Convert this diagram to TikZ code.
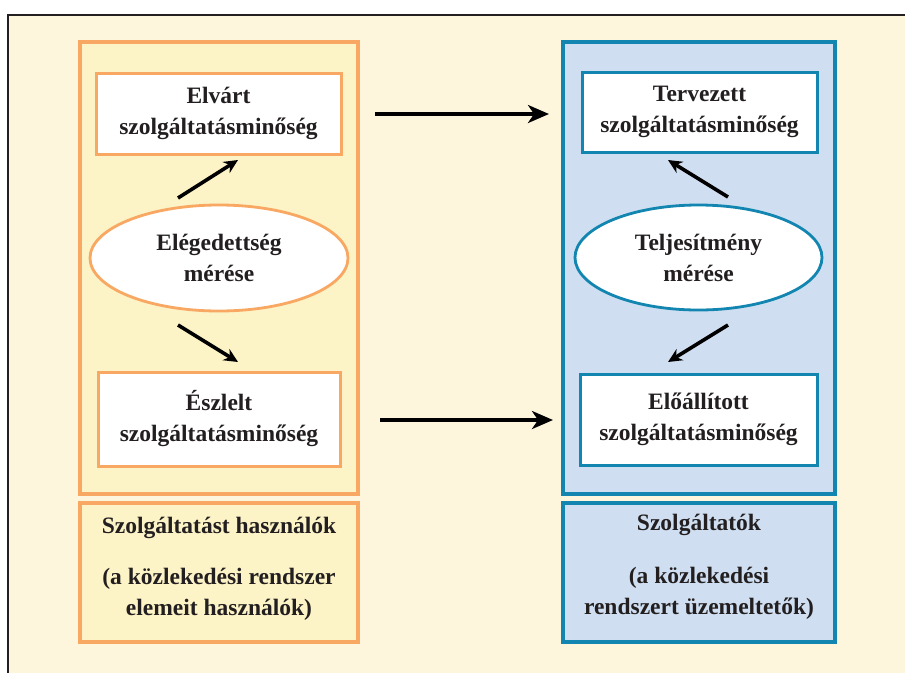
\documentclass[tikz,border=0pt]{standalone}
\usepackage{fontspec}
\setmainfont{Liberation Serif}
\usetikzlibrary{arrows.meta,shapes.geometric}
\definecolor{cream}{HTML}{FEF6DC}
\definecolor{usefill}{HTML}{FCF3C6}
\definecolor{useline}{HTML}{F8A862}
\definecolor{provfill}{HTML}{CFDFF1}
\definecolor{provline}{HTML}{1286B0}
\definecolor{ink}{HTML}{231F20}
\tikzset{
  txt/.style={font=\fontsize{23.5}{31}\selectfont\bfseries, text=ink, align=center},
  panel/.style={line width=3.2pt, inner sep=0pt},
  qbox/.style={txt, draw, fill=white, line width=3pt, inner sep=0pt},
  meas/.style={txt, ellipse, draw, fill=white, line width=2.8pt, inner sep=0pt},
  flow/.style={line width=3.6pt, -{Stealth[length=14pt,width=13pt]}},
  horiz/.style={line width=3.4pt, -{Stealth[length=21pt,width=18pt,inset=6pt]}}
}
\begin{document}
\begin{tikzpicture}[x=1pt,y=-1pt]
\useasboundingbox (0,0) rectangle (905,673);
% page background and frame
\fill[cream] (8,15) rectangle (905,673);
\draw[ink, line width=1.3pt] (8,673) -- (8,15) -- (905,15);

% service users side
\node[panel, draw=useline, fill=usefill, minimum width=278pt, minimum height=452pt] (upanel) at (219,268) {};
\node[panel, draw=useline, fill=usefill, minimum width=278pt, minimum height=139pt] (ulabel) at (219,572.5) {};
\node[txt, anchor=center] (ulabA) at (219,528) {Szolgáltatást használók};
\node[txt, anchor=center] (ulabB) at (219,594) {(a közlekedési rendszer\\elemeit használók)};

\node[qbox, draw=useline, minimum width=245pt, minimum height=81pt] (expected) at (218.5,113.5) {Elvárt\\szolgáltatásminőség};
\node[meas, draw=useline, minimum width=258pt, minimum height=106pt] (satisf) at (219,258) {Elégedettség\\mérése};
\node[qbox, draw=useline, minimum width=242pt, minimum height=94pt] (perceived) at (219,419) {Észlelt\\szolgáltatásminőség};

% service providers side
\node[panel, draw=provline, fill=provfill, minimum width=272pt, minimum height=452pt] (ppanel) at (699,268) {};
\node[panel, draw=provline, fill=provfill, minimum width=272pt, minimum height=139pt] (plabel) at (699,572.5) {};
\node[txt, anchor=center] (plabA) at (699,525) {Szolgáltatók};
\node[txt, anchor=center] (plabB) at (699,593) {(a közlekedési\\rendszert üzemeltetők)};

\node[qbox, draw=provline, minimum width=235pt, minimum height=80pt] (planned) at (699.5,112) {Tervezett\\szolgáltatásminőség};
\node[meas, draw=provline, minimum width=247pt, minimum height=105pt] (perf) at (698.5,257.5) {Teljesítmény\\mérése};
\node[qbox, draw=provline, minimum width=237pt, minimum height=91pt] (produced) at (698.5,419.5) {Előállított\\szolgáltatásminőség};

% arrow end points
\coordinate (a1s) at (178,198); \coordinate (a1e) at (238,160);
\coordinate (a2s) at (178,325); \coordinate (a2e) at (238,362);
\coordinate (a3s) at (728,197); \coordinate (a3e) at (668,160);
\coordinate (a4s) at (728,325); \coordinate (a4e) at (668,362);
\coordinate (h1s) at (375,114); \coordinate (h1e) at (549,114);
\coordinate (h2s) at (380,420); \coordinate (h2e) at (553,420);

\draw[flow] (a1s) -- (a1e);
\draw[flow] (a2s) -- (a2e);
\draw[flow] (a3s) -- (a3e);
\draw[flow] (a4s) -- (a4e);
\draw[horiz] (h1s) -- (h1e);
\draw[horiz] (h2s) -- (h2e);
\end{tikzpicture}
\end{document}
